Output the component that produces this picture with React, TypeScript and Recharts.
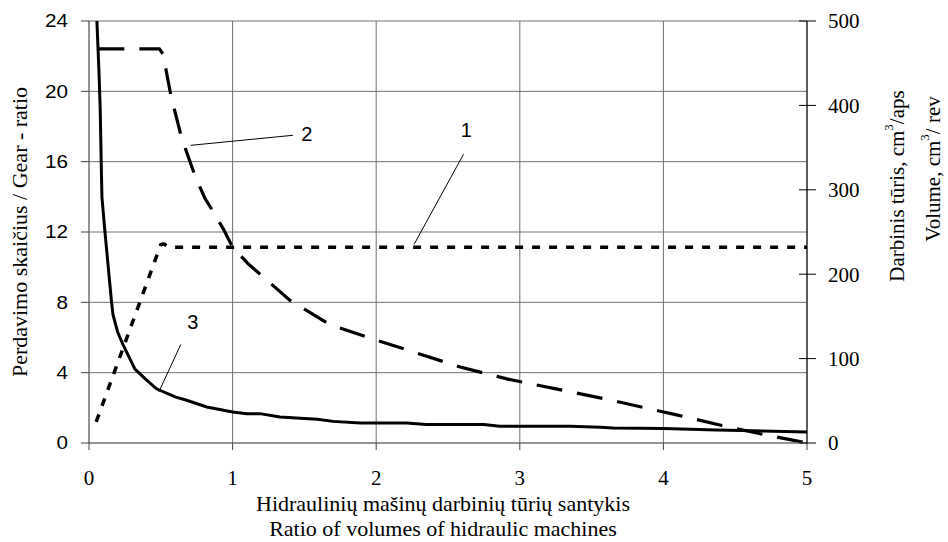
import React from 'react';
import { LineChart, Line, XAxis, YAxis, CartesianGrid, ReferenceLine, ReferenceDot, Label } from 'recharts';

// ---- axes ----
const xTicks = [0, 1, 2, 3, 4, 5];
const leftTicks = [0, 4, 8, 12, 16, 20, 24];
const rightTicks = [0, 100, 200, 300, 400, 500];

// ---- curve 1 (volume, cm3/rev, right axis) ----
const curve1X = [0.05, 0.5, 0.52, 0.56, 1, 2, 3, 4, 5];
const curve1Y = [25, 235, 236, 232, 232, 232, 232, 232, 232];

// ---- curve 2 (volume, cm3/rev, right axis) ----
const curve2X = [0.065, 0.49, 0.515, 0.57, 0.644, 0.737, 0.807, 0.865, 0.934, 1.0, 1.11, 1.4, 1.68, 2.0, 2.33, 2.585, 2.91, 3.63, 4.1, 4.4, 4.7, 5.0];
const curve2Y = [467, 467, 461, 412, 362, 317, 290, 274, 254, 232, 212, 169, 140, 122, 104, 90, 76, 51, 33, 21, 10, 0];

// ---- curve 3 (gear ratio, left axis) ----
const curve3X = [0.055, 0.07, 0.078, 0.085, 0.09, 0.11, 0.156, 0.167, 0.2, 0.237, 0.32, 0.39, 0.47, 0.6, 0.68, 0.82, 1.0, 1.1, 1.19, 1.33, 1.5, 1.59, 1.7, 1.89, 2.21, 2.35, 2.75, 2.86, 3.35, 3.56, 3.65, 4.0, 4.37, 5.0];
const curve3Y = [24, 21, 19, 16, 14, 12.1, 8.1, 7.3, 6.3, 5.6, 4.2, 3.66, 3.08, 2.62, 2.43, 2.05, 1.76, 1.67, 1.67, 1.48, 1.4, 1.35, 1.23, 1.14, 1.14, 1.05, 1.05, 0.95, 0.95, 0.9, 0.85, 0.82, 0.74, 0.63];

// ---- annotations (left-axis units) ----
const noteText = ['1', '2', '3'];
const noteX = [2.627, 1.516, 0.723];
const noteY = [17.79, 17.56, 6.87];
const leaderX1 = [2.608, 0.709, 0.639];
const leaderY1 = [16.42, 16.93, 5.6];
const leaderX2 = [2.264, 1.42, 0.486];
const leaderY2 = [11.3, 17.5, 2.9];

const SERIF = '"Liberation Serif", "Times New Roman", serif';
const SANS = '"Liberation Sans", Arial, sans-serif';

const toData = (xs: number[], ys: number[]) => xs.map((x, i) => ({ x, y: ys[i] }));
const data1 = toData(curve1X, curve1Y);
const data2 = toData(curve2X, curve2Y);
const data3 = toData(curve3X, curve3Y);

const RightTick = (props: any) => {
  const { x, y, payload } = props;
  const ax = x - 21;
  return (
    <g>
      <line x1={ax - 8} x2={ax + 9} y1={y} y2={y} stroke="#000" strokeWidth={1} />
      <text x={x} y={y} dy="0.35em" textAnchor="start" fontFamily={SERIF} fontSize={21} fill="#000">
        {payload.value}
      </text>
    </g>
  );
};

const LeftTick = (props: any) => {
  const { x, y, payload } = props;
  return (
    <text x={x} y={y} dy="0.36em" textAnchor="end" fontFamily={SANS} fontSize={18} fill="#000" transform={`translate(${x} 0) scale(1.15 1) translate(${-x} 0)`}>
      {payload.value}
    </text>
  );
};

const LeftTitle = (props: any) => {
  const vb = props.viewBox || {};
  const cx = vb.x + 19;
  const cy = vb.y + vb.height / 2;
  return (
    <text x={cx} y={cy} transform={`rotate(-90 ${cx} ${cy})`} textAnchor="middle" dominantBaseline="central" fontFamily={SERIF} fontSize={22} fill="#000">
      Perdavimo skaičius / Gear - ratio
    </text>
  );
};

const RightTitle = (props: any) => {
  const vb = props.viewBox || {};
  const c1x = vb.x + 90;
  const c1y = vb.y + 165;
  const c2x = vb.x + 126;
  const c2y = vb.y + 148;
  return (
    <g fontFamily={SERIF} fontSize={21} fill="#000">
      <text x={c1x} y={c1y} transform={`rotate(-90 ${c1x} ${c1y})`} textAnchor="middle" dominantBaseline="central">
        Darbinis tūris,  cm<tspan dy="-9" fontSize={13}>3</tspan><tspan dy="9">/aps</tspan>
      </text>
      <text x={c2x} y={c2y} transform={`rotate(-90 ${c2x} ${c2y})`} textAnchor="middle" dominantBaseline="central">
        Volume,  cm<tspan dy="-9" fontSize={13}>3</tspan><tspan dy="9">/ rev</tspan>
      </text>
    </g>
  );
};

const BottomTitle = (props: any) => {
  const vb = props.viewBox || {};
  const cx = vb.x + vb.width / 2 - 5;
  return (
    <g fontFamily={SERIF} fontSize={22} fill="#000">
      <text x={cx} y={vb.y + 60} dominantBaseline="central" textAnchor="middle">Hidraulinių mašinų darbinių tūrių santykis</text>
      <text x={cx} y={vb.y + 85} dominantBaseline="central" textAnchor="middle">Ratio of volumes of hidraulic machines</text>
    </g>
  );
};

export default function App() {
  return (
    <div style={{ position: 'absolute', left: 0, top: 0, background: '#fff' }}>
      <LineChart width={948} height={542} margin={{ top: 21, right: 0, bottom: 0, left: 0 }}>
        <CartesianGrid yAxisId="left" stroke="#707070" strokeWidth={1} horizontal vertical />
        <XAxis
          type="number"
          dataKey="x"
          domain={[0, 5]}
          ticks={xTicks}
          allowDataOverflow
          height={99}
          tickSize={7}
          tickMargin={20}
          axisLine={{ stroke: '#707070' }}
          tickLine={{ stroke: '#404040' }}
          tick={{ fontFamily: SERIF, fontSize: 21, fill: '#000' }}
          interval={0}
        >
          <Label content={<BottomTitle />} />
        </XAxis>
        <YAxis
          yAxisId="left"
          orientation="left"
          type="number"
          domain={[0, 24]}
          ticks={leftTicks}
          width={89}
          tickSize={8}
          tickMargin={13}
          allowDataOverflow
          axisLine={{ stroke: '#707070' }}
          tickLine={{ stroke: '#404040' }}
          tick={<LeftTick />}
          interval={0}
        >
          <Label content={<LeftTitle />} />
        </YAxis>
        <YAxis
          yAxisId="right"
          orientation="right"
          type="number"
          domain={[0, 500]}
          ticks={rightTicks}
          width={141}
          tickSize={9}
          tickMargin={12}
          allowDataOverflow
          axisLine={{ stroke: '#000' }}
          tickLine={false}
          tick={<RightTick />}
          interval={0}
        >
          <Label content={<RightTitle />} />
        </YAxis>

        <Line yAxisId="left" data={data3} dataKey="y" type="linear" stroke="#000" strokeWidth={3} dot={false} isAnimationActive={false} />
        <Line yAxisId="right" data={data2} dataKey="y" type="linear" stroke="#000" strokeWidth={3.2} strokeDasharray="26 15" dot={false} isAnimationActive={false} />
        <Line yAxisId="right" data={data1} dataKey="y" type="linear" stroke="#000" strokeWidth={3.5} strokeDasharray="8 9" dot={false} isAnimationActive={false} />

        {noteText.map((t, i) => (
          <ReferenceLine
            key={'l' + i}
            yAxisId="left"
            segment={[{ x: leaderX1[i], y: leaderY1[i] }, { x: leaderX2[i], y: leaderY2[i] }]}
            stroke="#000"
            strokeWidth={1}
          />
        ))}
        {noteText.map((t, i) => (
          <ReferenceDot
            key={'d' + i}
            yAxisId="left"
            x={noteX[i]}
            y={noteY[i]}
            r={1}
            fill="none"
            stroke="none"
            label={{ value: t, position: 'center', fontFamily: SANS, fontSize: 20, fill: '#000' }}
          />
        ))}
      </LineChart>
    </div>
  );
}
